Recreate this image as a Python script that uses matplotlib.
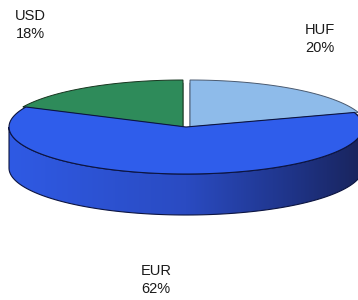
import numpy as np
import matplotlib
matplotlib.use("Agg")
import matplotlib.pyplot as plt
from matplotlib.patches import Polygon
from matplotlib.colors import LinearSegmentedColormap

# data
labels = ["HUF", "EUR", "USD"]
shares = [20, 62, 18]
pct_text = ["20%", "62%", "18%"]

plt.rcParams['font.family'] = ['Liberation Sans', 'DejaVu Sans']

fig = plt.figure(figsize=(3.58, 3.0), dpi=100)
ax = fig.add_axes([0, 0, 1, 1])
ax.set_xlim(0, 358)
ax.set_ylim(300, 0)
ax.axis("off")

# pie geometry (pixel space)
cx, cy = 186, 127
a, b = 177, 47
depth = {"HUF": 3, "EUR": 41, "USD": 3}
shift = {"HUF": (4, 0), "EUR": (0, 0), "USD": (-3, 0)}
top_col = {"HUF": "#8ebbea", "EUR": "#2f5deb", "USD": "#2e8b5a"}
dark_col = {"HUF": "#3d5a86", "EUR": "#1a2560", "USD": "#1d4d32"}
edge_col = {"HUF": "#4a5a70", "EUR": "#0c1440", "USD": "#17351f"}


def arc(t0, t1, dx, dy, n=120):
    t = np.radians(np.linspace(t0, t1, n))
    return np.column_stack([cx + dx + a * np.cos(t), cy + dy - b * np.sin(t)])


# slice angles, clockwise from 12 o'clock
angles = {}
start = 90.0
for lab, s in zip(labels, shares):
    end = start - s / 100 * 360
    angles[lab] = (end, start)
    start = end

# back (thin) slices first
for lab in ["USD", "HUF"]:
    t0, t1 = angles[lab]
    dx, dy = shift[lab]
    pts = np.vstack([[cx + dx, cy + dy], arc(t0, t1, dx, dy)])
    low = pts + [0, depth[lab]]
    ax.add_patch(Polygon(low, closed=True, fc=dark_col[lab], ec=edge_col[lab], lw=0.6))
    ax.add_patch(Polygon(pts, closed=True, fc=top_col[lab], ec=edge_col[lab], lw=0.7))

# EUR: thick slice with shaded side
t0, t1 = angles["EUR"]
dx, dy = shift["EUR"]
d = depth["EUR"]
front = arc(max(t0, -180), min(t1, 0), dx, dy)
side = np.vstack([front, front[::-1] + [0, d]])
side_patch = Polygon(side, closed=True, fc="none", ec=edge_col["EUR"], lw=0.8)
ax.add_patch(side_patch)
cmap = LinearSegmentedColormap.from_list(
    "side", [(0, "#2f5ae4"), (0.5, "#2a4bc2"), (0.8, "#1f3488"), (1, "#19245c")])
grad = np.linspace(0, 1, 256).reshape(1, -1)
im = ax.imshow(grad, cmap=cmap, extent=(cx - a, cx + a, cy + b + d + 2, cy - 2),
               aspect="auto", zorder=1.5)
im.set_clip_path(side_patch)
side_patch.set_zorder(1.6)

top = np.vstack([[cx + dx, cy + dy], arc(t0, t1, dx, dy)])
ax.add_patch(Polygon(top, closed=True, fc=top_col["EUR"], ec=edge_col["EUR"],
                     lw=0.8, zorder=2))

# labels
pos = {"HUF": (320, 39), "EUR": (156, 280), "USD": (30, 25)}
for lab, p in zip(labels, pct_text):
    x, y = pos[lab]
    ax.text(x, y, lab + "\n" + p, ha="center", va="center", fontsize=10.5,
            color="#1a1a1a", linespacing=1.35)

fig.savefig("out.png", dpi=100)
